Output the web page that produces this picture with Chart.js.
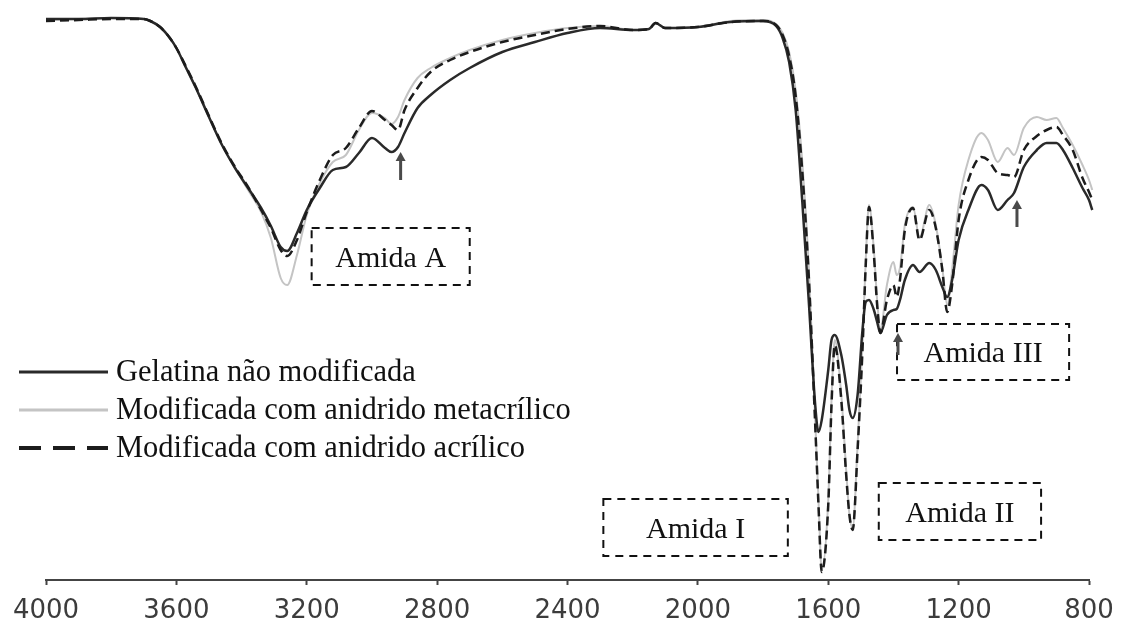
<!DOCTYPE html>
<html>
<head>
<meta charset="utf-8">
<script src="https://cdn.jsdelivr.net/npm/chart.js@4.4.1/dist/chart.umd.min.js"></script>
<style>
  html, body { margin: 0; padding: 0; background: #fff; overflow: hidden; }
  #wrap { width: 1121px; height: 624px; position: relative; }
</style>
</head>
<body>
<div id="wrap"><canvas id="ftirChart"></canvas></div>
<script>
// numero de onda (cm-1), eixo invertido
const wavenumbers = [4000, 3900, 3800, 3700, 3680, 3650, 3620, 3600, 3570, 3540, 3500, 3460,
  3420, 3380, 3340, 3310, 3280, 3260, 3230, 3200, 3160, 3120, 3080, 3040,
  3000, 2960, 2940, 2920, 2900, 2860, 2820, 2760, 2700, 2600, 2500, 2400,
  2300, 2200, 2150, 2130, 2100, 2000, 1900, 1800, 1760, 1740, 1720, 1700,
  1680, 1660, 1640, 1630, 1620, 1600, 1590, 1580, 1560, 1545, 1535, 1525,
  1510, 1495, 1485, 1475, 1460, 1450, 1440, 1420, 1400, 1390, 1380, 1365,
  1340, 1320, 1290, 1270, 1250, 1235, 1220, 1200, 1170, 1130, 1110, 1080,
  1050, 1030, 1000, 960, 930, 900, 880, 850, 820, 800, 790];

// transmitancia (unidades arbitrarias)
const gelatinaNaoModificada = [112.2, 112.2, 112.4, 112.2, 111.8, 110.6, 108.4, 106.4, 102.4, 98.4, 92.6, 87,
  82.4, 78.4, 74.4, 70.8, 66.6, 65.8, 69.4, 74, 78.4, 82, 82.6, 85.4,
  88.4, 86.4, 85.6, 86.6, 89.4, 94.4, 97, 100, 102.4, 105.6, 107.6, 109.4,
  110.4, 110, 110.2, 111.4, 110.4, 110.6, 111.6, 111.8, 110.8, 108.4, 103.6, 94,
  76, 56, 35, 29.6, 32, 42, 48, 49, 45, 39, 34, 32.4,
  37, 50, 55.6, 56, 54, 51.6, 49.4, 53, 54, 54.2, 56, 60,
  63, 61.6, 63.4, 62, 58.6, 56.6, 60, 68, 74, 79, 78, 74,
  76, 77.4, 82.6, 86, 87.4, 87.4, 86, 82.4, 78.4, 76, 74];

const anidridoMetacrilico = [112, 112.2, 112.4, 112.2, 111.8, 110.6, 108.4, 106.4, 102.4, 98.4, 92.6, 87,
  82.4, 78, 73.6, 68.4, 60.4, 59, 65, 73, 79.4, 83.6, 85, 90,
  93.4, 92.4, 91.2, 92.6, 96, 100.4, 102.4, 104.4, 106, 108, 109.4, 110.4,
  110.8, 110, 110.2, 111.4, 110.4, 110.6, 111.8, 112, 111.2, 109.4, 105.6, 98,
  84, 63, 32, 16, 2, 16, 36, 48, 37, 22, 13, 10.4,
  27, 47, 64, 75, 66, 56, 50, 59, 63.6, 61, 62.4, 71,
  74.6, 68.4, 75, 71, 62.4, 55, 62, 75, 84, 89.4, 88, 83.6,
  86.4, 85, 90.4, 92.6, 92, 92.4, 90.4, 87, 83, 80, 78];

const anidridoAcrilico = [111.8, 112, 112.2, 112.2, 111.8, 110.6, 108.4, 106.4, 102.6, 98.6, 92.8, 87.2,
  82.6, 78.6, 74, 70.4, 66, 64.8, 68, 73.6, 80, 85, 86.4, 90.4,
  93.8, 92, 91, 90, 94, 98.4, 101.6, 104, 105.6, 107.6, 109, 110.2,
  110.8, 110, 110.2, 111.4, 110.4, 110.6, 111.6, 111.8, 111, 109, 104.8, 96.8,
  82, 61, 31, 15, 1.6, 15, 35, 47, 36, 21, 13, 10,
  26, 46, 63, 74.6, 65, 55, 49.4, 56, 59, 56.6, 60, 70,
  74.4, 68, 74, 70.4, 62, 53.6, 59, 72, 80, 84.6, 84, 81.4,
  81, 80.6, 86, 88.8, 90, 90.6, 89, 86, 80.4, 77.6, 76];

const seriesNames = ["Gelatina não modificada", "Modificada com anidrido metacrílico", "Modificada com anidrido acrílico"];
const xTickValues = [800, 1200, 1600, 2000, 2400, 2800, 3200, 3600, 4000];

const bandLabels = ["Amida A", "Amida I", "Amida II", "Amida III"];
// caixas das bandas, em unidades dos eixos
const bandBoxes = [
  { from: 3185, to: 2700, top: 70.4, bottom: 59 },
  { from: 2290, to: 1724, top: 16.2, bottom: 4.8 },
  { from: 1445, to: 947, top: 19.4, bottom: 8 },
  { from: 1389, to: 861, top: 51.2, bottom: 40 }
];
// setas (x, ponta, base)
const arrows = [
  { x: 2912, tip: 85.6, tail: 80 },
  { x: 1021, tip: 76, tail: 70.6 },
  { x: 1386, tip: 49.4, tail: 45 }
];

function toPoints(values) {
  return wavenumbers.map((w, i) => ({ x: w, y: values[i] }));
}

const notesPlugin = {
  id: "ftirNotes",
  afterDraw(chart) {
    const { ctx, scales: { x, y } } = chart;
    ctx.save();

    // caixas tracejadas
    ctx.font = "30px 'Liberation Serif'";
    ctx.textAlign = "center";
    ctx.textBaseline = "alphabetic";
    ctx.fillStyle = "#111";
    ctx.strokeStyle = "#111";
    ctx.lineWidth = 2;
    bandBoxes.forEach((b, i) => {
      const x1 = x.getPixelForValue(b.from);
      const x2 = x.getPixelForValue(b.to);
      const y1 = y.getPixelForValue(b.top);
      const y2 = y.getPixelForValue(b.bottom);
      ctx.setLineDash([8, 6]);
      ctx.strokeRect(x1, y1, x2 - x1, y2 - y1);
      ctx.setLineDash([]);
      ctx.fillText(bandLabels[i], (x1 + x2) / 2, (y1 + y2) / 2 + 10);
    });

    // setas
    ctx.strokeStyle = "#4a4a4a";
    ctx.fillStyle = "#4a4a4a";
    ctx.lineWidth = 3;
    arrows.forEach(a => {
      const px = x.getPixelForValue(a.x);
      const yt = y.getPixelForValue(a.tip);
      const yb = y.getPixelForValue(a.tail);
      ctx.beginPath();
      ctx.moveTo(px, yb);
      ctx.lineTo(px, yt + 6);
      ctx.stroke();
      ctx.beginPath();
      ctx.moveTo(px, yt);
      ctx.lineTo(px - 5, yt + 9);
      ctx.lineTo(px + 5, yt + 9);
      ctx.closePath();
      ctx.fill();
    });

    // legenda
    const legendDash = [[], [], [22, 12]];
    ctx.font = "30.5px 'Liberation Serif'";
    ctx.textAlign = "left";
    ctx.fillStyle = "#111";
    chart.data.datasets.forEach((ds, i) => {
      const base = 381 + i * 38;
      ctx.strokeStyle = ds.borderColor;
      ctx.lineWidth = i === 2 ? 4 : 3;
      ctx.setLineDash(legendDash[i]);
      ctx.beginPath();
      ctx.moveTo(19, base - 9);
      ctx.lineTo(108, base - 9);
      ctx.stroke();
      ctx.setLineDash([]);
      ctx.fillText(ds.label, 116, base);
    });

    ctx.restore();
  }
};

new Chart(document.getElementById("ftirChart"), {
  type: "line",
  data: {
    datasets: [{
      label: seriesNames[0],
      data: toPoints(gelatinaNaoModificada),
      borderColor: "#2a2a2a",
      borderWidth: 2.5,
      order: 2
    }, {
      label: seriesNames[1],
      data: toPoints(anidridoMetacrilico),
      borderColor: "#c4c4c4",
      borderWidth: 2,
      order: 3
    }, {
      label: seriesNames[2],
      data: toPoints(anidridoAcrilico),
      borderColor: "#1c1c1c",
      borderWidth: 2.5,
      borderDash: [9, 5],
      order: 1
    }]
  },
  options: {
    responsive: true,
    maintainAspectRatio: false,
    animation: false,
    layout: {
      autoPadding: false,
      padding: { left: 46, right: 32, top: 10, bottom: -13 }
    },
    elements: {
      point: { radius: 0 },
      line: { cubicInterpolationMode: "monotone", fill: false }
    },
    datasets: {
      line: { clip: false }
    },
    plugins: {
      legend: { display: false },
      tooltip: { enabled: false }
    },
    scales: {
      x: {
        type: "linear",
        reverse: true,
        min: 800,
        max: 4000,
        afterBuildTicks: axis => {
          axis.ticks = xTickValues.map(v => ({ value: v }));
        },
        grid: {
          drawOnChartArea: false,
          drawTicks: true,
          tickLength: 5,
          tickWidth: 2,
          tickColor: "#444"
        },
        border: {
          display: true,
          color: "#444",
          width: 2
        },
        ticks: {
          padding: 13,
          maxRotation: 0,
          autoSkip: false,
          color: "#3c3c3c",
          font: { family: "DejaVu Sans", size: 26, lineHeight: 1 },
          callback: value => String(value)
        }
      },
      y: {
        display: false,
        min: 0,
        max: 114
      }
    }
  },
  plugins: [notesPlugin]
});
</script>
</body>
</html>
